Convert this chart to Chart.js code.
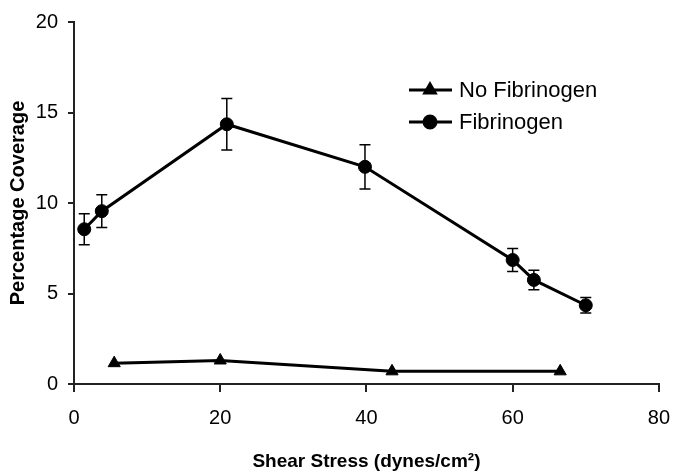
<!DOCTYPE html>
<html>
<head>
<meta charset="utf-8">
<script src="https://cdn.jsdelivr.net/npm/chart.js@4"></script>
<style>
  body { margin: 0; background: #fff; }
  #wrap { width: 684px; height: 475px; }
</style>
</head>
<body>
<div id="wrap"><canvas id="chart"></canvas></div>
<script>
// data
const fibX = [1.4, 3.8, 20.9, 39.8, 60.0, 62.9, 70.0];
const fibY = [8.55, 9.55, 14.35, 12.0, 6.85, 5.75, 4.35];
const fibErr = [0.86, 0.9, 1.42, 1.22, 0.64, 0.54, 0.43];
const noFibX = [5.5, 20.0, 43.5, 66.5];
const noFibY = [1.15, 1.3, 0.7, 0.7];
const xTicks = [0, 20, 40, 60, 80];
const yTicks = [0, 5, 10, 15, 20];

const pts = (xs, ys) => xs.map((x, i) => ({ x, y: ys[i] }));
const tickFont = { family: '"Liberation Sans", Arial', size: 20 };

// error bars on the Fibrinogen series
const errorBars = {
    id: 'errorBars',
    afterDatasetsDraw(chart) {
        const { ctx, scales: { x, y } } = chart;
        ctx.save();
        ctx.strokeStyle = '#000';
        ctx.lineWidth = 1.5;
        fibX.forEach((v, i) => {
            const px = x.getPixelForValue(v);
            const top = y.getPixelForValue(fibY[i] + fibErr[i]);
            const bot = y.getPixelForValue(fibY[i] - fibErr[i]);
            ctx.beginPath();
            ctx.moveTo(px, top); ctx.lineTo(px, bot);
            ctx.moveTo(px - 5.5, top); ctx.lineTo(px + 5.5, top);
            ctx.moveTo(px - 5.5, bot); ctx.lineTo(px + 5.5, bot);
            ctx.stroke();
        });
        ctx.restore();
    }
};

// legend sitting inside the plot, like the original
const insideLegend = {
    id: 'insideLegend',
    afterDraw(chart) {
        const ctx = chart.ctx;
        const rows = [
            { label: 'No Fibrinogen', style: 'triangle', y: 90 },
            { label: 'Fibrinogen', style: 'circle', y: 122 }
        ];
        ctx.save();
        rows.forEach(r => {
            ctx.strokeStyle = '#000';
            ctx.lineWidth = 3;
            ctx.beginPath();
            ctx.moveTo(409, r.y); ctx.lineTo(452, r.y);
            ctx.stroke();
            ctx.fillStyle = '#000';
            Chart.helpers.drawPoint(ctx, { pointStyle: r.style, radius: 6, borderWidth: 1 }, 430, r.y);
            ctx.font = '22px "Liberation Sans", Arial, sans-serif';
            ctx.textBaseline = 'middle';
            ctx.fillText(r.label, 459, r.y + 1);
        });
        ctx.restore();
    }
};

new Chart(document.getElementById('chart'), {
    type: 'scatter',
    data: {
        datasets: [
            {
                label: 'No Fibrinogen',
                data: pts(noFibX, noFibY),
                showLine: true,
                borderColor: '#000',
                backgroundColor: '#000',
                borderWidth: 3,
                pointStyle: 'triangle',
                pointRadius: 7,
                pointBorderWidth: 1
            },
            {
                label: 'Fibrinogen',
                data: pts(fibX, fibY),
                showLine: true,
                borderColor: '#000',
                backgroundColor: '#000',
                borderWidth: 3,
                pointStyle: 'circle',
                pointRadius: 6.5,
                pointBorderWidth: 1
            }
        ]
    },
    options: {
        responsive: true,
        maintainAspectRatio: false,
        animation: false,
        layout: { padding: { top: 16, right: 12, left: 0, bottom: 0 } },
        plugins: { legend: { display: false }, tooltip: { enabled: false } },
        scales: {
            x: {
                type: 'linear',
                min: 0, max: 80,
                afterBuildTicks: s => { s.ticks = xTicks.map(v => ({ value: v })); },
                afterFit: s => { s.height = 91; },
                border: { color: '#222', width: 2 },
                grid: { drawOnChartArea: false, drawTicks: true, tickLength: 8, color: '#222', lineWidth: 2 },
                ticks: { color: '#000', padding: 14, font: tickFont },
                title: {
                    display: true,
                    text: 'Shear Stress (dynes/cm²)',
                    color: '#000',
                    padding: { top: 4, bottom: 2 },
                    font: { family: '"Liberation Sans", Arial', size: 19, weight: 'bold' }
                }
            },
            y: {
                min: 0, max: 20,
                afterBuildTicks: s => { s.ticks = yTicks.map(v => ({ value: v })); },
                afterFit: s => { s.width = 74; },
                border: { color: '#222', width: 2 },
                grid: { drawOnChartArea: false, drawTicks: true, tickLength: 6, color: '#222', lineWidth: 2 },
                ticks: { color: '#000', padding: 10, font: tickFont },
                title: {
                    display: true,
                    text: 'Percentage Coverage',
                    color: '#000',
                    padding: { top: 6, bottom: 0 },
                    font: { family: '"Liberation Sans", Arial', size: 20, weight: 'bold' }
                }
            }
        }
    },
    plugins: [errorBars, insideLegend]
});
</script>
</body>
</html>
